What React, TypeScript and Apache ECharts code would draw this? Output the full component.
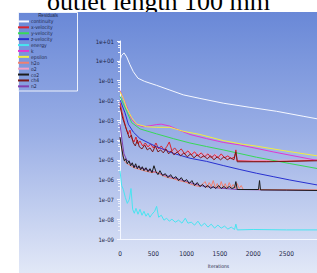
import React, { useEffect, useRef } from "react";
import * as echarts from "echarts";

// Residual names and colours (legend order)
const seriesNames = [
  "continuity", "x-velocity", "y-velocity", "z-velocity", "energy", "k",
  "epsilon", "h2o", "o2", "co2", "ch4", "n2",
];
const seriesColors = [
  "#f6f8ff", "#d82430", "#38d858", "#2830d0", "#48e4f0", "#e038d0",
  "#f2ec40", "#f08070", "#f0a0c8", "#1c1c1c", "#7a1818", "#8040b0",
];

// [iteration, log10(residual)] pairs
const continuityLog = [
  [0, 0.0], [20, 0.25], [60, 0.4], [100, 0.2], [150, -0.2], [200, -0.55], [270, -0.88],
  [370, -1.04], [550, -1.24], [750, -1.48], [950, -1.72], [1200, -1.9], [1550, -2.14],
  [1950, -2.35], [2350, -2.55], [2750, -2.8], [2960, -2.93],
];
const xVelocityLog = [
  [0, -2.1], [30, -2.6], [60, -3.0], [90, -3.4], [120, -3.7], [150, -3.5], [180, -3.95],
  [210, -4.1], [240, -3.85], [270, -4.2], [300, -4.05], [340, -4.3], [380, -4.15],
  [420, -4.35], [460, -4.2], [500, -4.4], [540, -4.15], [580, -4.45], [620, -4.3],
  [660, -4.5], [700, -4.35], [740, -4.1], [780, -4.55], [820, -4.4], [870, -4.6],
  [920, -4.45], [970, -4.7], [1020, -4.55], [1070, -4.75], [1120, -4.6], [1170, -4.8],
  [1220, -4.65], [1270, -4.85], [1320, -4.7], [1370, -4.9], [1420, -4.75], [1470, -4.9],
  [1520, -4.7], [1570, -4.9], [1620, -4.8], [1670, -4.95], [1720, -4.85], [1740, -4.5],
  [1760, -5.05], [2000, -5.08], [2500, -5.08], [2960, -5.02],
];
const yVelocityLog = [
  [0, -1.8], [100, -2.54], [175, -3.12], [300, -3.44], [550, -3.69], [800, -3.93],
  [1050, -4.15], [1300, -4.33], [1550, -4.5], [2050, -4.87], [2550, -5.19], [2960, -5.44],
];
const zVelocityLog = [
  [0, -1.97], [75, -2.63], [125, -3.2], [200, -3.6], [300, -3.93], [450, -4.18],
  [550, -4.34], [800, -4.67], [1050, -4.92], [1300, -5.08], [1550, -5.29], [1800, -5.49],
  [2050, -5.68], [2300, -5.85], [2550, -6.02], [2960, -6.27],
];
const energyLog = [
  [0, -5.55], [25, -6.3], [50, -6.5], [80, -6.9], [110, -7.2], [140, -7.0], [165, -6.45],
  [190, -7.5], [215, -7.7], [240, -7.45], [270, -7.75], [300, -7.5], [330, -7.8],
  [360, -7.6], [390, -7.85], [420, -7.7], [450, -7.9], [480, -7.75], [520, -7.6],
  [550, -7.35], [580, -7.9], [620, -7.8], [660, -8.05], [700, -7.95], [740, -8.1],
  [780, -8.0], [830, -8.15], [880, -8.05], [930, -8.2], [980, -7.95], [1020, -8.2],
  [1070, -8.15], [1120, -8.3], [1170, -8.1], [1220, -8.35], [1270, -8.2], [1320, -8.4],
  [1370, -8.25], [1420, -8.45], [1470, -8.3], [1520, -8.45], [1570, -8.35], [1620, -8.5],
  [1670, -8.4], [1720, -8.52], [1740, -8.25], [1760, -8.54], [2000, -8.52],
  [2500, -8.54], [2960, -8.54],
];
const kLog = [
  [0, -1.5], [100, -2.3], [175, -2.96], [250, -3.23], [350, -3.33], [450, -3.28],
  [550, -3.22], [620, -3.2], [750, -3.3], [900, -3.52], [1050, -3.72], [1300, -3.93],
  [1550, -4.12], [1800, -4.25], [2300, -4.6], [2960, -5.03],
];
const epsilonLog = [
  [0, -1.55], [50, -1.9], [100, -2.38], [175, -2.87], [250, -3.2], [400, -3.33],
  [550, -3.36], [750, -3.36], [950, -3.56], [1200, -3.72], [1550, -4.03], [1850, -4.22],
  [2050, -4.31], [2550, -4.59], [2960, -4.8],
];
const h2oLog = [
  [0, -3.9], [25, -4.4], [50, -4.85], [75, -5.1], [110, -5.2], [160, -5.3], [210, -5.4],
  [260, -5.45], [310, -5.5], [360, -5.55], [420, -5.6], [480, -5.65], [540, -5.6],
  [640, -5.8], [720, -5.9], [800, -5.95], [880, -6.05], [960, -6.1], [1040, -6.2],
  [1120, -6.3], [1200, -6.35], [1280, -6.1], [1310, -6.4], [1340, -6.15], [1370, -6.35],
  [1400, -6.05], [1430, -6.4], [1460, -6.2], [1490, -6.45], [1520, -6.1], [1550, -6.4],
  [1580, -6.2], [1610, -6.45], [1640, -6.15], [1670, -6.4], [1700, -6.25], [1730, -6.45],
  [1760, -6.2], [1790, -6.45], [1820, -6.3], [1850, -6.5], [1900, -6.5], [2960, -6.52],
];
const o2Log = [
  [0, -2.2], [100, -3.5], [200, -4.0], [400, -4.3], [600, -4.45], [800, -4.6],
  [1000, -4.7], [1040, -4.5], [1080, -4.8], [1120, -4.55], [1160, -4.85], [1200, -4.6],
  [1240, -4.9], [1280, -4.65], [1320, -4.9], [1360, -4.7], [1400, -4.95], [1440, -4.7],
  [1480, -4.95], [1520, -4.75], [1560, -4.95], [1600, -4.8], [1640, -5.0], [1680, -4.85],
  [1720, -5.0], [1760, -5.05], [2960, -5.0],
];
const co2Log = [
  [0, -3.85], [20, -4.3], [45, -4.8], [65, -5.05], [85, -4.95], [110, -5.2], [135, -5.05],
  [160, -5.3], [185, -5.15], [210, -5.4], [235, -5.2], [260, -5.45], [285, -5.3],
  [310, -5.5], [335, -5.35], [360, -5.55], [390, -5.4], [420, -5.6], [450, -5.45],
  [480, -5.65], [510, -5.3], [540, -5.6], [570, -5.75], [600, -5.55], [640, -5.8],
  [680, -5.7], [720, -5.9], [760, -5.75], [800, -5.95], [840, -5.85], [880, -6.05],
  [920, -5.9], [960, -6.1], [1000, -6.0], [1040, -6.2], [1080, -6.05], [1120, -6.3],
  [1160, -6.15], [1200, -6.35], [1240, -6.25], [1280, -6.4], [1320, -6.3], [1360, -6.45],
  [1400, -6.35], [1440, -6.45], [1480, -6.3], [1520, -6.45], [1560, -6.35], [1600, -6.45],
  [1640, -6.35], [1680, -6.45], [1720, -6.4], [1740, -6.1], [1760, -6.5], [2080, -6.5],
  [2095, -6.05], [2110, -6.52], [2500, -6.53], [2960, -6.55],
];
const ch4Log = [
  [0, -2.3], [40, -2.9], [80, -3.3], [110, -3.6], [140, -3.9], [170, -3.75], [200, -4.15],
  [230, -4.3], [260, -4.0], [290, -4.35], [330, -4.45], [370, -4.25], [410, -4.5],
  [450, -4.4], [490, -4.6], [530, -4.3], [570, -4.6], [610, -4.5], [650, -4.65],
  [690, -4.45], [730, -4.7], [770, -4.55], [810, -4.75], [860, -4.6], [910, -4.8],
  [960, -4.65], [1010, -4.85], [1060, -4.7], [1110, -4.9], [1160, -4.75], [1210, -4.9],
  [1260, -4.8], [1310, -4.95], [1360, -4.8], [1410, -5.0], [1460, -4.85], [1510, -5.0],
  [1560, -4.85], [1610, -5.0], [1660, -4.9], [1710, -5.0], [1740, -4.6], [1760, -5.1],
  [2200, -5.1], [2960, -5.05],
];
const n2Log = [
  [0, -3.2], [30, -4.0], [60, -4.7], [100, -5.0], [200, -5.3], [400, -5.5], [600, -5.7],
  [800, -5.9], [1000, -6.1], [1200, -6.3], [1400, -6.4], [1760, -6.5], [2960, -6.55],
];

const seriesLogs = [
  continuityLog, xVelocityLog, yVelocityLog, zVelocityLog, energyLog, kLog,
  epsilonLog, h2oLog, o2Log, co2Log, ch4Log, n2Log,
];
const seriesZ = [2, 2, 2, 2, 2, 2, 2, 2, 1, 3, 3, 1];

const titleText = "outlet length 100 mm";
const legendTitle = "Residuals";
const xAxisName = "Iterations";

function fmtExp(v: number): string {
  const e = Math.round(Math.log10(v));
  const sign = e < 0 ? "-" : "+";
  const a = Math.abs(e);
  return "1e" + sign + (a < 10 ? "0" + a : String(a));
}

export default function App() {
  const ref = useRef<HTMLDivElement>(null);
  useEffect(() => {
    if (!ref.current) return;
    const chart = echarts.init(ref.current, undefined, { renderer: "svg" });
    const labelFont = '"Liberation Sans Narrow", "DejaVu Sans Condensed", sans-serif';
    chart.setOption({
      animation: false,
      graphic: {
        elements: [
          {
            type: "text",
            x: 158.5,
            y: 1,
            z2: 0,
            style: {
              text: titleText,
              font: '26px "Liberation Serif", serif',
              lineHeight: 18,
              fill: "#000000",
              align: "center",
              verticalAlign: "middle",
            },
          },
          {
            type: "rect",
            z2: 1,
            shape: { x: 19, y: 12, width: 298, height: 261 },
            style: {
              fill: {
                type: "linear",
                x: 0,
                y: 0,
                x2: 0,
                y2: 1,
                colorStops: [
                  { offset: 0, color: "#6988d7" },
                  { offset: 0.45, color: "#98ade5" },
                  { offset: 1, color: "#e2e8f7" },
                ],
              },
            },
          },
          {
            type: "rect",
            z2: 2,
            shape: { x: 18.5, y: 12.5, width: 59, height: 78.5 },
            style: { fill: "none", stroke: "#eef2fb", lineWidth: 1 },
          },
          {
            type: "text",
            x: 48,
            y: 15,
            z2: 2,
            style: {
              text: legendTitle,
              font: '4.5px "Liberation Sans Narrow", sans-serif',
              fill: "#1e2748",
              align: "center",
              verticalAlign: "middle",
            },
          },
        ],
      },
      legend: {
        orient: "vertical",
        left: 18,
        top: 18.5,
        padding: 0,
        itemGap: 0,
        itemWidth: 11,
        itemHeight: 2,
        icon: "rect",
        selectedMode: false,
        textStyle: {
          fontSize: 5,
          lineHeight: 5.9,
          color: "#1e2748",
          fontFamily: labelFont,
          padding: [0, 0, 0, -3],
        },
        data: seriesNames,
      },
      grid: { left: 120, right: 0, top: 41, bottom: 28, containLabel: false },
      xAxis: {
        type: "value",
        min: 0,
        max: 2958,
        interval: 500,
        name: xAxisName,
        nameLocation: "middle",
        nameGap: 24,
        nameTextStyle: { fontSize: 5, color: "#1e2748", fontFamily: labelFont },
        axisLine: { show: true, lineStyle: { color: "#f4f7ff", width: 1 } },
        axisTick: { show: false },
        splitLine: { show: false },
        axisLabel: {
          fontSize: 6.5,
          color: "#1e2748",
          fontFamily: labelFont,
          margin: 11,
          showMaxLabel: false,
          formatter: (v: number) => String(v),
        },
      },
      yAxis: {
        type: "log",
        logBase: 10,
        min: 1e-9,
        max: 10,
        splitNumber: 10,
        axisLine: { show: true, lineStyle: { color: "#f4f7ff", width: 1 } },
        axisTick: { show: true, length: 3, lineStyle: { color: "#f4f7ff" } },
        minorTick: { show: true, splitNumber: 5, length: 2, lineStyle: { color: "#eef2fb" } },
        splitLine: { show: false },
        axisLabel: {
          fontSize: 6,
          color: "#1e2748",
          fontFamily: labelFont,
          margin: 6,
          formatter: (v: number) => fmtExp(v),
        },
      },
      series: seriesNames.map((name, i) => ({
        name,
        type: "line",
        showSymbol: false,
        symbol: "none",
        z: seriesZ[i],
        color: seriesColors[i],
        lineStyle: { color: seriesColors[i], width: 1 },
        data: seriesLogs[i].map(([it, d]) => [it, Math.pow(10, d)]),
      })),
    });
    return () => chart.dispose();
  }, []);
  return (
    <div
      ref={ref}
      style={{ position: "absolute", left: 0, top: 0, width: 317, height: 273 }}
    />
  );
}
